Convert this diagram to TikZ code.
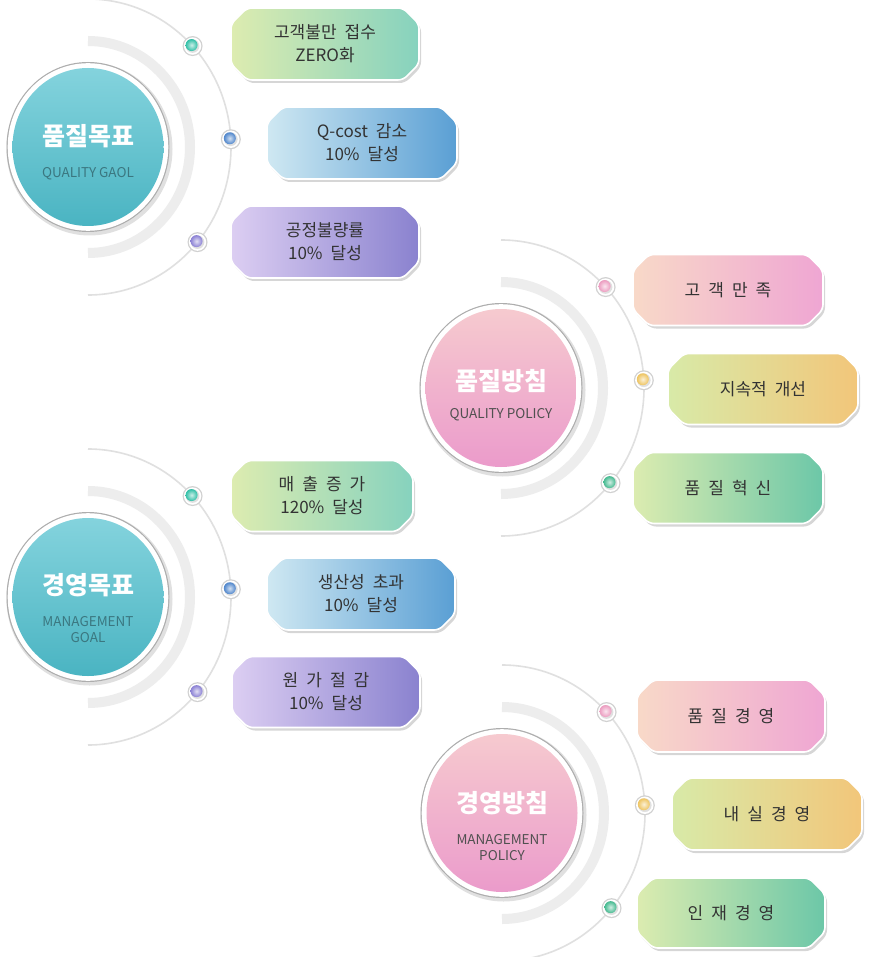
\documentclass[tikz,border=0pt]{standalone}
\usepackage{fontspec}
\setmainfont{Noto Sans CJK KR}
\usetikzlibrary{calc}
\definecolor{txt}{HTML}{333333}
\definecolor{tealA}{HTML}{84D3DD}
\definecolor{tealB}{HTML}{4AB4C2}
\definecolor{pinkA}{HTML}{F6CACF}
\definecolor{pinkB}{HTML}{EB9BCB}
\definecolor{subteal}{HTML}{3B7780}
\definecolor{subpink}{HTML}{505050}
% box gradients
\definecolor{gL}{HTML}{DDECB0}\definecolor{gR}{HTML}{86D2BE}
\definecolor{bL}{HTML}{CFE8F2}\definecolor{bR}{HTML}{5A9FD4}
\definecolor{vL}{HTML}{DCCEF2}\definecolor{vR}{HTML}{8A82CF}
\definecolor{pL}{HTML}{F8D9C8}\definecolor{pR}{HTML}{EFA6D3}
\definecolor{yL}{HTML}{D8EAA8}\definecolor{yR}{HTML}{F2C67A}
\definecolor{tL}{HTML}{DCECB0}\definecolor{tR}{HTML}{6CC7A8}
% dot colours
\definecolor{dTeal}{HTML}{2FBFA6}
\definecolor{dBlue}{HTML}{4F86CC}
\definecolor{dViolet}{HTML}{8A80D4}
\definecolor{dPink}{HTML}{EC9CC0}
\definecolor{dYellow}{HTML}{EEC460}
\definecolor{dGreen}{HTML}{45BA90}

\newlength\boxspace
\setlength\boxspace{8pt}
\newcommand\boxfnt{\fontsize{17}{23}\selectfont\spaceskip=\boxspace\relax}

% chamfered box: cx cy w h leftcolour rightcolour
\newcommand\chbox[6]{%
  \pgfmathsetmacro\bxa{#1-#3/2}\pgfmathsetmacro\bxb{#1+#3/2}%
  \pgfmathsetmacro\bya{#2-#4/2}\pgfmathsetmacro\byb{#2+#4/2}%
  \fill[black!35, opacity=0.45, rounded corners=5pt, shift={(2pt,-3pt)}]
    (\bxa+16,\bya) -- (\bxb-16,\bya) -- (\bxb,\bya+16) -- (\bxb,\byb-16) --
    (\bxb-16,\byb) -- (\bxa+16,\byb) -- (\bxa,\byb-16) -- (\bxa,\bya+16) -- cycle;
  \path[rounded corners=5pt, left color=#5, right color=#6, draw=white, line width=1.6pt]
    (\bxa+16,\bya) -- (\bxb-16,\bya) -- (\bxb,\bya+16) -- (\bxb,\byb-16) --
    (\bxb-16,\byb) -- (\bxa+16,\byb) -- (\bxa,\byb-16) -- (\bxa,\bya+16) -- cycle;
}
% dot on the thin arc: centre, angle, colour, name
\newcommand\gdot[4]{%
  \path ($(#1)+(#2:143pt and 148pt)$) coordinate (#4);
  \fill[black!18] (#4) circle (10pt);
  \fill[white] (#4) circle (8.7pt);
  \fill[black!12] (#4) circle (6.8pt);
  \shade[inner color=#3!25!white, outer color=#3] ($(#4)+(-1pt,1pt)$) circle (6pt);
}
% hub: centre, top colour, bottom colour
\newcommand\hubdisc[3]{%
  \draw[thickarc] ($(#1)+(90:102pt and 106pt)$) arc[start angle=90, end angle=-90, x radius=102pt, y radius=106pt];
  \draw[thinarc] ($(#1)+(90:143pt and 148pt)$) arc[start angle=90, end angle=-90, x radius=143pt, y radius=148pt];
  \fill[black!12] ($(#1)+(1.5pt,-2pt)$) ellipse[x radius=83pt, y radius=86.5pt];
  \fill[black!32] (#1) ellipse[x radius=81.5pt, y radius=85pt];
  \fill[white] (#1) ellipse[x radius=80.3pt, y radius=83.8pt];
  \shade[top color=#2, bottom color=#3] (#1) ellipse[x radius=75.5pt, y radius=79pt];
}

\begin{document}
\begin{tikzpicture}[x=1pt, y=-1pt,
  thinarc/.style={draw=black!12, line width=1.6pt},
  thickarc/.style={draw=black!7, line width=10pt},
  title/.style={font=\fontsize{25}{29}\selectfont\bfseries, text=white, inner sep=0pt},
  subtitle/.style={font=\fontsize{13.5}{16}\selectfont, align=center, inner sep=0pt},
  boxtext/.style={font=\boxfnt, text=txt, align=center, inner sep=0pt}
]
\useasboundingbox[fill=white] (0,0) rectangle (868,957);

% ---------- group 1: 품질목표 ----------
\coordinate (g1) at (88,147);
\hubdisc{g1}{tealA}{tealB}
\gdot{g1}{43}{dTeal}{d11}
\gdot{g1}{3}{dBlue}{d12}
\gdot{g1}{-40}{dViolet}{d13}
\chbox{325}{44}{188}{72}{gL}{gR}
\chbox{362}{143}{190}{72}{bL}{bR}
\chbox{325}{242}{188}{72}{vL}{vR}
\node[title] (t1) at (88,136) {품질목표};
\node[subtitle, text=subteal] (s1) at (88,174) {QUALITY GAOL};
\node[boxtext] (b11) at (325,44) {고객불만 접수\\ZERO화};
\node[boxtext] (b12) at (362,143) {Q-cost 감소\\10\% 달성};
\node[boxtext] (b13) at (325,242) {공정불량률\\10\% 달성};

% ---------- group 2: 품질방침 ----------
\coordinate (g2) at (501,388);
\hubdisc{g2}{pinkA}{pinkB}
\gdot{g2}{43}{dPink}{d21}
\gdot{g2}{3}{dYellow}{d22}
\gdot{g2}{-40}{dGreen}{d23}
\chbox{728}{290}{190}{71}{pL}{pR}
\chbox{763}{389}{190}{71}{yL}{yR}
\chbox{728}{488}{190}{71}{tL}{tR}
\node[title] (t2) at (501,381) {품질방침};
\node[subtitle, text=subpink] (s2) at (501,415) {QUALITY POLICY};
\node[boxtext] (b21) at (728,290) {고 객 만 족};
\node[boxtext] (b22) at (763,389) {지속적 개선};
\node[boxtext] (b23) at (728,488) {품 질 혁 신};

% ---------- group 3: 경영목표 ----------
\coordinate (g3) at (88,597);
\hubdisc{g3}{tealA}{tealB}
\gdot{g3}{43}{dTeal}{d31}
\gdot{g3}{3}{dBlue}{d32}
\gdot{g3}{-40}{dViolet}{d33}
\chbox{322}{496}{182}{71}{gL}{gR}
\chbox{361}{594}{188}{72}{bL}{bR}
\chbox{326}{692}{188}{71}{vL}{vR}
\node[title] (t3) at (88,585) {경영목표};
\node[subtitle, text=subteal] (s3) at (88,630) {MANAGEMENT\\GOAL};
\node[boxtext] (b31) at (322,496) {매 출 증 가\\120\% 달성};
\node[boxtext] (b32) at (361,594) {생산성 초과\\10\% 달성};
\node[boxtext] (b33) at (326,692) {원 가 절 감\\10\% 달성};

% ---------- group 4: 경영방침 ----------
\coordinate (g4) at (502,813);
\hubdisc{g4}{pinkA}{pinkB}
\gdot{g4}{43}{dPink}{d41}
\gdot{g4}{3}{dYellow}{d42}
\gdot{g4}{-40}{dGreen}{d43}
\chbox{731}{716}{188}{72}{pL}{pR}
\chbox{767}{814}{190}{72}{yL}{yR}
\chbox{731}{913}{188}{70}{tL}{tR}
\node[title] (t4) at (502,803) {경영방침};
\node[subtitle, text=subpink] (s4) at (502,848) {MANAGEMENT\\POLICY};
\node[boxtext] (b41) at (731,716) {품 질 경 영};
\node[boxtext] (b42) at (767,814) {내 실 경 영};
\node[boxtext] (b43) at (731,913) {인 재 경 영};
\end{tikzpicture}
\end{document}
